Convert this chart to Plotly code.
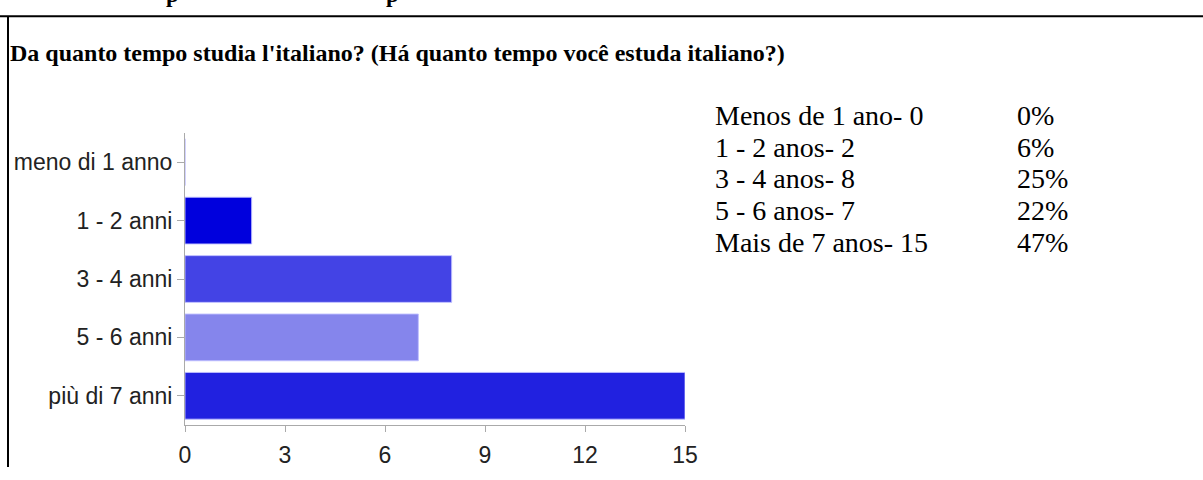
import plotly.graph_objects as go

# ---- data ----
categories = ["meno di 1 anno", "1 - 2 anni", "3 - 4 anni", "5 - 6 anni", "più di 7 anni"]
counts = [0, 2, 8, 7, 15]
bar_colors = ["#0000dd", "#0000dd", "#4343e5", "#8585ec", "#2121e0"]
x_ticks = [0, 3, 6, 9, 12, 15]

summary_labels = ["Menos de 1 ano- 0", "1 - 2 anos- 2", "3 - 4 anos- 8", "5 - 6 anos- 7", "Mais de 7 anos- 15"]
summary_percents = ["0%", "6%", "25%", "22%", "47%"]

title_text = "Da quanto tempo studia l'italiano? (Há quanto tempo você estuda italiano?)"

W, H = 1203, 480
L, R, T, B = 185, 685, 133, 438  # plot area in pixels


def px(x):
    return (x - L) / (R - L)


def py(y):
    return (B - y) / (B - T)


fig = go.Figure()
fig.add_trace(go.Bar(
    y=categories,
    x=counts,
    orientation="h",
    marker=dict(color=bar_colors, line=dict(color="rgba(190,190,255,0.9)", width=1)),
    hoverinfo="x+y",
))

shapes = [
    # frame lines of the surrounding table
    dict(type="line", xref="paper", yref="paper", x0=px(0), x1=px(W), y0=py(11), y1=py(11),
         line=dict(color="black", width=2)),
    dict(type="line", xref="paper", yref="paper", x0=px(8), x1=px(8), y0=py(11), y1=py(H + 2),
         line=dict(color="black", width=2)),
]

annotations = [
    dict(text="<b>" + title_text + "</b>", xref="paper", yref="paper", x=px(8), y=py(49),
         xanchor="left", yanchor="middle", showarrow=False,
         font=dict(family="Liberation Serif", size=24, color="black")),
]
# clipped descenders of a heading above the visible area
for cx in (172, 392):
    annotations.append(dict(text="<b>p</b>", xref="paper", yref="paper", x=px(cx), y=py(4),
                            xanchor="center", yanchor="bottom", showarrow=False,
                            font=dict(family="Liberation Serif", size=23, color="black")))

line_centers = [115, 148, 181, 214, 247]
for lab, pct, yc in zip(summary_labels, summary_percents, line_centers):
    annotations.append(dict(text=lab, xref="paper", yref="paper", x=px(713), y=py(yc),
                            xanchor="left", yanchor="middle", showarrow=False,
                            font=dict(family="Liberation Serif", size=28, color="black")))
    annotations.append(dict(text=pct, xref="paper", yref="paper", x=px(1015), y=py(yc),
                            xanchor="left", yanchor="middle", showarrow=False,
                            font=dict(family="Liberation Serif", size=28, color="black")))

fig.update_layout(
    width=W, height=H, autosize=False,
    margin=dict(l=L, r=W - R, t=T, b=H - B, pad=0),
    paper_bgcolor="white", plot_bgcolor="white",
    showlegend=False,
    bargap=0.2,
    shapes=shapes,
    annotations=annotations,
    xaxis=dict(range=[0, 15], tickvals=x_ticks, showgrid=False, zeroline=False,
               showline=True, linecolor="#aaaaaa", linewidth=1,
               ticks="outside", ticklen=6, tickcolor="#aaaaaa", ticklabelstandoff=3,
               tickfont=dict(family="Liberation Sans", size=23, color="#222222")),
    yaxis=dict(autorange="reversed", showgrid=False, zeroline=False,
               showline=True, linecolor="#aaaaaa", linewidth=1,
               ticks="outside", ticklen=7, tickcolor="#aaaaaa",
               tickfont=dict(family="Liberation Sans", size=23, color="#222222")),
)

page_css = (
    "var s=document.createElement('style');"
    "s.textContent='html,body{margin:0;padding:0;overflow:hidden;}';"
    "document.head.appendChild(s);"
)

fig.write_html(
    "out.html",
    config={"displayModeBar": False, "responsive": False},
    post_script=page_css,
)
